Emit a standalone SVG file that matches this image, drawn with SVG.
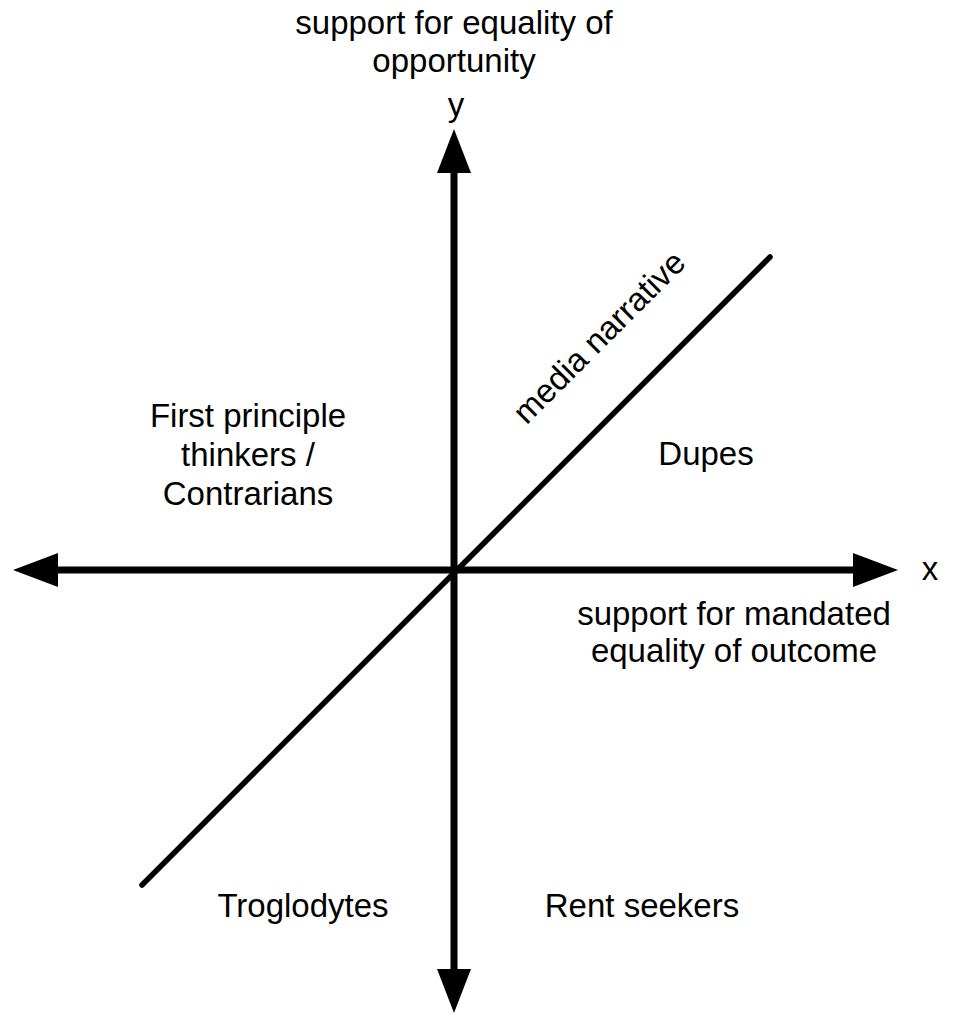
<svg xmlns="http://www.w3.org/2000/svg" width="961" height="1024" viewBox="0 0 961 1024">
<style>
text{font-family:"Liberation Sans",Arial,Helvetica,sans-serif;font-size:33px;fill:#000;text-anchor:middle}
.axis{stroke:#000;stroke-width:7;fill:none}
.diag{stroke:#000;stroke-width:5.5;stroke-linecap:round;fill:none}
.head{fill:#000}
</style>
<rect width="961" height="1024" fill="#fff"/>
<g id="connectors">
<line class="axis" x1="454" y1="170" x2="454" y2="972"/>
<line class="axis" x1="55" y1="570" x2="856" y2="570"/>
<polygon class="head" points="454,129 437,173 471,173"/>
<polygon class="head" points="454,1013 437,969 471,969"/>
<polygon class="head" points="13,570 58,553 58,587"/>
<polygon class="head" points="898,570 853,553 853,587"/>
<line class="diag" x1="142" y1="885" x2="770" y2="257"/>
</g>
<g id="y-axis-label">
<text x="454" y="34">support for equality of</text>
<text x="454" y="72">opportunity</text>
<text x="456" y="116">y</text>
</g>
<g id="x-axis-label">
<text x="930" y="580">x</text>
<text x="734" y="625">support for mandated</text>
<text x="734" y="662">equality of outcome</text>
</g>
<g id="media-narrative">
<text transform="translate(607,345) rotate(-45)">media narrative</text>
</g>
<g id="first-principle">
<text x="248" y="427">First principle</text>
<text x="248" y="466">thinkers /</text>
<text x="248" y="505">Contrarians</text>
</g>
<g id="dupes"><text x="706" y="465">Dupes</text></g>
<g id="troglodytes"><text x="303" y="917">Troglodytes</text></g>
<g id="rent-seekers"><text x="642" y="917">Rent seekers</text></g>
</svg>
